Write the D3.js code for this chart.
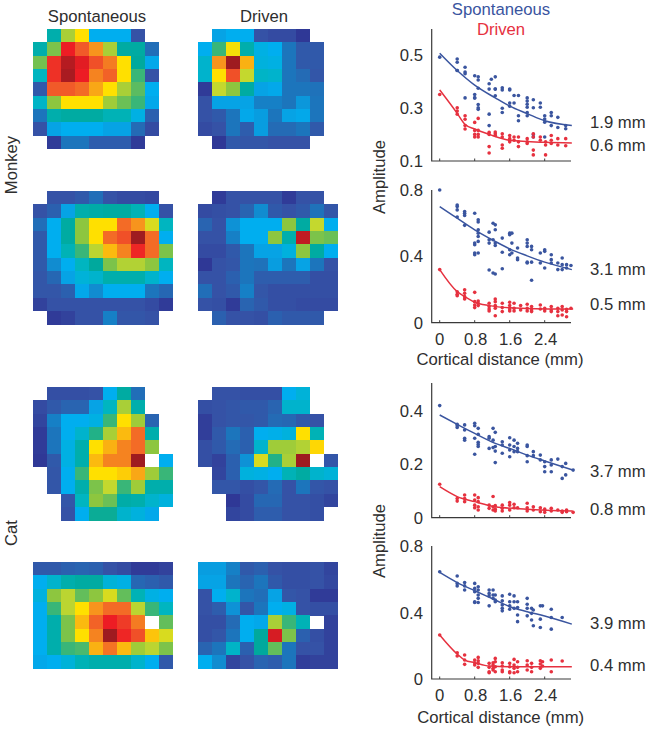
<!DOCTYPE html>
<html><head><meta charset="utf-8"><script src="https://cdn.jsdelivr.net/npm/d3@7"></script>
<style>html,body{margin:0;padding:0;background:#fff}svg{display:block}text{font-family:"Liberation Sans",Arial,sans-serif;fill:#2e2e2e}</style>
</head><body><div id="c"></div><script>
const _=null;
const colorStops=[0,.1,.2,.3,.38,.45,.5,.6,.66,.72,.8,.87,.93,1];
const colorValues=["#2e3192","#3552a6","#1c75bc","#00aeef","#00b5c0","#00a99d","#39b678","#8dc63f","#c4d82e","#ffe000","#f7941d","#f15a29","#ed1c24","#9e1b20"];

const gridMonkeySpont1=[
[_,.42,.63,.72,.3,.3,.3,.1,_],
[.42,.58,.93,.87,.8,.63,.44,.44,.18],
[.57,.91,.98,.94,.88,.83,.72,.45,.29],
[.38,.91,.99,.93,.82,.86,.72,.5,.1],
[.12,.87,.87,.85,.78,.72,.63,.54,.3],
[.37,.6,.72,.72,.72,.62,.56,.5,.29],
[.2,.42,.44,.44,.44,.4,.4,.32,.14],
[.1,.28,.3,.3,.3,.28,.28,.17,.08],
[_,.03,.2,.2,.13,.13,.13,.03,_]];
const gridMonkeyDriven1=[
[_,.28,.3,.3,.1,.08,.08,.02,_],
[.3,.5,.71,.42,.32,.3,.2,.12,.12],
[.36,.8,1,.77,.33,.32,.2,.12,.12],
[.36,.72,.88,.66,.37,.36,.2,.17,.11],
[.03,.66,.6,.44,.28,.29,.2,.2,.19],
[.1,.28,.28,.28,.22,.22,.2,.26,.2],
[.1,.12,.2,.29,.27,.2,.28,.29,.2],
[.08,.1,.2,.13,.27,.17,.17,.2,.12],
[_,.02,.12,.11,.11,.1,.1,.1,_]];
const gridMonkeySpont2=[
[_,.1,.1,.12,.18,.1,.08,.08,.07,_],
[.1,.14,.28,.42,.43,.44,.44,.4,.3,.1],
[.18,.3,.44,.6,.72,.72,.85,.8,.68,.38],
[.12,.3,.44,.6,.72,.85,.88,1,.85,.3],
[.12,.3,.4,.5,.65,.76,.82,.92,.85,.58],
[.12,.24,.3,.38,.45,.58,.64,.64,.6,.38],
[.11,.16,.28,.34,.36,.42,.42,.42,.36,.3],
[.11,.11,.14,.29,.24,.3,.3,.3,.2,.16],
[.05,.1,.1,.1,.1,.1,.1,.1,.08,.03],
[_,.03,.05,.1,.1,.22,.11,.11,.1,_]];
const gridMonkeyDriven2=[
[_,.03,.1,.1,.1,.1,.03,.1,.1,_],
[.08,.09,.1,.15,.24,.12,.1,.12,.19,.11],
[.15,.1,.25,.3,.3,.3,.6,.44,.66,.3],
[.1,.1,.22,.3,.3,.6,.42,.97,.58,.56],
[.08,.08,.12,.2,.28,.28,.33,.6,.44,.3],
[.02,.1,.11,.2,.19,.27,.2,.28,.2,.1],
[.1,.1,.14,.2,.13,.13,.13,.13,.09,.09],
[.18,.1,.12,.22,.11,.09,.09,.09,.09,.09],
[.1,.09,.03,.15,.12,.09,.09,.08,.08,.08],
[_,.14,.1,.1,.09,.14,.12,.12,.12,_]];
const gridCatSpont1=[
[_,.09,.09,.09,.1,.3,.44,.18,_,_],
[.08,.12,.15,.15,.28,.38,.63,.42,_,_],
[.06,.22,.3,.3,.32,.5,.72,.62,.15,_],
[.03,.2,.3,.36,.48,.63,.76,.85,.42,_],
[.03,.2,.32,.42,.72,.77,.82,.85,.6,_],
[.02,.12,.32,.42,.76,.82,.82,1,_,.3],
[_,.11,.3,.5,.72,.72,.74,.78,.62,.5],
[_,.11,.3,.42,.58,.66,.5,.62,.42,.42],
[_,_,.11,.38,.6,.56,.43,.42,.36,.33],
[_,_,.1,.3,.46,.46,.36,.33,.29,_]];
const gridCatDriven1=[
[_,.1,.1,.09,.09,.09,.3,.34,_,_],
[.09,.1,.11,.12,.12,.15,.36,.36,_,_],
[.04,.1,.11,.11,.12,.17,.16,.12,.1,_],
[.04,.12,.2,.14,.3,.31,.33,.72,.4,_],
[.09,.12,.17,.14,.36,.62,.62,.64,.73,_],
[.09,.05,.14,.25,.68,.48,.63,1,_,.11],
[_,.06,.14,.33,.32,.3,.4,.44,.36,.34],
[_,.11,.11,.09,.11,.17,.1,.2,.11,.1],
[_,_,.02,.08,.16,.16,.1,.1,.09,.06],
[_,_,.06,.08,.13,.13,.1,.1,.09,_]];
const gridCatSpont2=[
[.12,.12,.14,.15,.14,.1,.08,.03,.03,.05],
[.3,.36,.42,.44,.44,.34,.32,.16,.14,.12],
[.33,.6,.65,.55,.6,.68,.55,.4,.32,.3],
[.3,.5,.65,.72,.8,.85,.85,.65,.5,.38],
[.3,.42,.58,.76,.86,.93,.9,.83,_,.55],
[.3,.42,.58,.72,.82,1,.92,.88,.75,.68],
[.3,.42,.5,.52,.77,.84,.76,.62,.65,.58],
[.29,.3,.34,.4,.42,.42,.42,.36,.3,.12]];
const gridCatDriven2=[
[.27,.27,.22,.12,.14,.1,.09,.09,.1,.06],
[.28,.28,.2,.15,.2,.12,.09,.09,.1,.07],
[.1,.3,.36,.2,.18,.28,.11,.1,.03,.03],
[.1,.13,.25,.11,.2,.3,.32,.1,.09,.09],
[.09,.09,.17,.3,.29,.63,.5,.4,_,.05],
[.09,.11,.2,.3,.45,.95,.58,.14,.09,.05],
[.15,.2,.37,.14,.45,.55,.2,.1,.1,.05],
[.3,.24,.06,.1,.15,.13,.2,.04,.05,.05]];

/* scatter data: [cortical distance, [amplitudes]] */
const spont1=[[0,[.49]],[.4,[.483,.471,.44,.44]],[.58,[.452,.434,.428,.337]],[.8,[.42,.35,.337,.337]],[.88,[.416,.404,.373,.312,.3,.294]],[1.13,[.39,.37,.276,.233]],[1.18,[.407]],[1.27,[.416,.37,.37,.345]],[1.43,[.375,.367,.298,.282]],[1.6,[.37,.367,.318,.306]],[1.7,[.346,.318]],[1.8,[.346,.27,.251]],[2,[.337,.325,.313,.302,.282,.27]],[2.14,[.33,.3,.2,.19]],[2.3,[.318,.302]],[2.4,[.27,.258,.246,.19]],[2.55,[.282,.27,.233]],[2.7,[.264,.226]],[2.88,[.233,.221]]];
const driven1=[[0,[.35]],[.4,[.3,.288,.276]],[.58,[.27,.257,.233,.22]],[.8,[.245,.215,.2,.19]],[.88,[.26,.215,.2,.19]],[1.13,[.208,.2,.154,.13]],[1.27,[.209,.202,.196]],[1.43,[.202,.19,.16,.148]],[1.6,[.196,.184,.178,.172]],[1.7,[.19,.178]],[1.8,[.19,.172,.154]],[2,[.184,.172,.166]],[2.14,[.202,.19,.141,.123]],[2.3,[.19,.178]],[2.42,[.172,.16,.123]],[2.55,[.196,.178,.166]],[2.7,[.184,.16]],[2.88,[.184,.157]]];
const lineSpont1=[[0,.505],[.4,.44],[.8,.385],[1.27,.337],[1.6,.306],[2,.278],[2.4,.251],[3.02,.233]];
const lineDriven1=[[0,.367],[.4,.279],[.57,.239],[.8,.22],[1.13,.2],[1.6,.178],[2.4,.17],[3.02,.168]];

const spont2=[[0,[.8]],[.4,[.71,.7,.68,.637]],[.57,[.67,.66,.647,.587]],[.8,[.66,.48,.47,.42,.41]],[.88,[.62,.607,.56,.54,.52,.49,.42]],[1.13,[.546,.5,.48,.318]],[1.22,[.6,.5,.3]],[1.27,[.59,.56,.48,.465,.294]],[1.43,[.51,.425,.325]],[1.6,[.54,.53,.44,.41]],[1.65,[.54,.48,.42]],[1.78,[.45,.39,.38]],[2,[.5,.48,.46,.365,.36]],[2.1,[.46,.44,.365,.256]],[2.3,[.42,.36]],[2.4,[.44,.43,.33]],[2.55,[.41,.38,.36]],[2.7,[.36,.32]],[2.8,[.39,.35,.32]],[2.9,[.35,.33]],[3,[.345]]];
const driven2=[[0,[.32]],[.4,[.187,.171,.163]],[.57,[.198,.177,.157,.143]],[.8,[.183,.127,.107,.091]],[.88,[.131,.117,.103]],[1.13,[.117,.097,.083,.071]],[1.27,[.143,.127,.103,.087,.042]],[1.43,[.117,.091,.067]],[1.6,[.123,.103,.083,.071]],[1.7,[.117,.087,.071]],[1.85,[.103,.077]],[2,[.111,.087,.071]],[2.1,[.097,.077,.067]],[2.3,[.107,.083]],[2.4,[.087,.071]],[2.55,[.097,.077,.067]],[2.7,[.087,.067,.042]],[2.8,[.097,.077,.046]],[2.9,[.081,.067,.036]],[3,[.087]]];
const lineSpont2=[[0,.7],[.4,.63],[.8,.56],[1.27,.49],[1.6,.445],[2,.403],[2.4,.365],[3.02,.32]];
const lineDriven2=[[0,.32],[.4,.187],[.57,.157],[.8,.123],[1.13,.103],[1.6,.09],[2.4,.083],[3.05,.083]];

const spont3=[[0,[.419]],[.4,[.349,.344,.337]],[.57,[.347,.328,.297,.29]],[.8,[.353,.344,.297,.237]],[.88,[.334,.312,.282,.274,.266]],[1.13,[.303,.297,.259]],[1.22,[.334,.29,.262]],[1.27,[.319,.266,.249,.206]],[1.43,[.284,.272,.241]],[1.6,[.299,.272,.253,.228]],[1.7,[.29,.266,.247]],[1.78,[.278,.259,.247]],[2,[.272,.266,.232,.209]],[2.14,[.247,.232]],[2.3,[.234,.216]],[2.4,[.209,.191,.172]],[2.55,[.216,.197,.172]],[2.7,[.219]],[2.8,[.191,.147]],[2.88,[.203,.16]],[3.05,[.178]]];
const driven3=[[0,[.125]],[.4,[.072,.062]],[.57,[.085,.072,.06]],[.8,[.085,.066,.047,.037]],[.88,[.075,.06,.041,.029]],[1.13,[.047,.035]],[1.22,[.079,.041,.029]],[1.27,[.045,.032,.025]],[1.43,[.047,.035,.025]],[1.6,[.057,.047,.029]],[1.7,[.05,.037]],[1.78,[.037]],[2,[.054,.037,.025]],[2.14,[.041,.029]],[2.3,[.037,.022]],[2.4,[.032,.02]],[2.55,[.035,.025]],[2.7,[.029]],[2.8,[.025,.02]],[2.9,[.029,.022]],[3.05,[.02]]];
const lineSpont3=[[0,.384],[.4,.349],[.8,.315],[1.27,.278],[1.6,.259],[2,.234],[2.4,.212],[3.04,.178]];
const lineDriven3=[[0,.116],[.4,.079],[.8,.06],[1.27,.041],[2,.032],[3.04,.025]];

const spont4=[[0,[.645]],[.4,[.62,.575,.56]],[.57,[.58,.56,.535]],[.8,[.575,.545,.525,.465,.46]],[.88,[.555,.535,.505,.485,.46]],[1.13,[.535,.515,.5,.44]],[1.22,[.535,.505,.485]],[1.27,[.505,.475,.465]],[1.43,[.5,.47,.445,.425,.41]],[1.6,[.51,.465,.44,.42]],[1.7,[.5,.465,.425]],[1.78,[.465,.43,.385,.345]],[2,[.485,.45,.425,.38]],[2.1,[.425,.395,.355]],[2.14,[.415,.32]],[2.3,[.44,.36,.31]],[2.35,[.44]],[2.55,[.42,.37,.3]],[2.8,[.37]]];
const driven4=[[0,[.265]],[.4,[.158,.138]],[.57,[.144,.114,.088]],[.8,[.114,.098,.084]],[.88,[.13,.11,.094,.07]],[1.13,[.094,.07,.044,.038]],[1.22,[.098,.084,.064,.054]],[1.27,[.124,.104,.074,.044]],[1.43,[.098,.078,.054,.044]],[1.6,[.094,.074,.044,.038]],[1.7,[.118,.084,.064,.038]],[1.78,[.104,.07,.044]],[2,[.11,.084,.054]],[2.1,[.094,.07,.044]],[2.3,[.11,.09,.064]],[2.35,[.104,.078]],[2.55,[.114,.044]],[2.8,[.108]]];
const lineSpont4=[[0,.641],[.4,.58],[.8,.531],[1.27,.475],[1.6,.435],[2,.405],[2.4,.379],[3.02,.33]];
const lineDriven4=[[0,.265],[.4,.15],[.57,.114],[.8,.098],[1.13,.078],[1.6,.074],[3.02,.074]];

const xTicks=[0,.8,1.6,2.4];
const xLabel="Cortical distance (mm)";
const columnTitles=["Spontaneous","Driven"];
const rowLabels=["Monkey","Cat"];

const BLUE="#3a559f", RED="#e6313f", FS=16.7;
const svg=d3.select("#c").append("svg").attr("width",653).attr("height",732);
const color=d3.scaleLinear().domain(colorStops).range(colorValues).clamp(true);

function heat(grid,x0,y0){
  const cw=14,ch=13.33;
  const x=d3.scaleLinear().domain([0,1]).range([x0,x0+cw]);
  const y=d3.scaleLinear().domain([0,1]).range([y0,y0+ch]);
  const g=svg.append("g").attr("shape-rendering","crispEdges");
  grid.forEach((row,r)=>row.forEach((v,c)=>{
    if(v===null)return;
    g.append("rect").attr("x",x(c)).attr("y",y(r)).attr("width",cw+.3).attr("height",ch+.3).attr("fill",color(v));
  }));
}
heat(gridMonkeySpont1,33,29);
heat(gridMonkeyDriven1,198,29);
heat(gridMonkeySpont2,33,191);
heat(gridMonkeyDriven2,198,191);
heat(gridCatSpont1,33,387);
heat(gridCatDriven1,198,387);
heat(gridCatSpont2,33,562);
heat(gridCatDriven2,198,562);

function txt(s,x,y,a,c,rot){
  const t=svg.append("text").text(s).attr("font-size",FS).attr("text-anchor",a||"start").attr("x",x).attr("y",y);
  if(c)t.style("fill",c);
  if(rot)t.attr("transform",`rotate(-90 ${x} ${y})`);
  return t;
}
txt(columnTitles[0],97,22,"middle");
txt(columnTitles[1],264,22,"middle");
txt(rowLabels[0],17,165,"middle",null,true);
txt(rowLabels[1],17,533,"middle",null,true);
txt(columnTitles[0],501,15,"middle",BLUE);
txt(columnTitles[1],501,35,"middle",RED);

function chart(o){
  const x=d3.scaleLinear().domain([0,.8]).range([439.7,474.7]);
  const y=d3.scaleLinear().domain(o.yref).range(o.yrange);
  const g=svg.append("g");
  const ax=431.7, bottom=o.bottom, top=o.top;
  g.append("path").attr("d",`M${ax},${top}V${bottom}H571`).attr("fill","none").attr("stroke","#3a3a3a").attr("stroke-width",1.2);
  xTicks.forEach(t=>g.append("line").attr("x1",x(t)).attr("x2",x(t)).attr("y1",bottom).attr("y2",bottom-2.5).attr("stroke","#3a3a3a"));
  o.yTicks.forEach(t=>txt(t.l,423,y(t.v)+6,"end"));
  if(o.xlab){
    xTicks.forEach(t=>txt(String(t),x(t)+(t?1:0),bottom+22,"middle"));
    txt(xLabel,o.xlabX,o.xlabY,"middle");
  }
  const line=d3.line().x(d=>x(d[0])).y(d=>y(d[1])).curve(d3.curveMonotoneX);
  [[o.s,o.ls,BLUE],[o.d,o.ld,RED]].forEach(([pts,l,c])=>{
    g.append("path").attr("d",line(l)).attr("fill","none").attr("stroke",c).attr("stroke-width",1.5);
    pts.forEach(([d,vs])=>vs.forEach(v=>g.append("circle").attr("cx",x(d)).attr("cy",y(v)).attr("r",1.8).attr("fill",c)));
  });
  o.labels.forEach(l=>txt(l[0],590,l[1]));
}
chart({yref:[.1,.5],yrange:[161,54.5],top:29,bottom:161,s:spont1,d:driven1,ls:lineSpont1,ld:lineDriven1,
  yTicks:[{v:.5,l:"0.5"},{v:.3,l:"0.3"},{v:.1,l:"0.1"}],labels:[["1.9 mm",128],["0.6 mm",151]]});
chart({yref:[0,.8],yrange:[322.7,190],top:190,bottom:322.7,s:spont2,d:driven2,ls:lineSpont2,ld:lineDriven2,xlab:true,xlabX:500,xlabY:365,
  yTicks:[{v:.8,l:"0.8"},{v:.4,l:"0.4"},{v:0,l:"0"}],labels:[["3.1 mm",275],["0.5 mm",310]]});
chart({yref:[0,.4],yrange:[517.7,410.7],top:383,bottom:517.7,s:spont3,d:driven3,ls:lineSpont3,ld:lineDriven3,
  yTicks:[{v:.4,l:"0.4"},{v:.2,l:"0.2"},{v:0,l:"0"}],labels:[["3.7 mm",477],["0.8 mm",515]]});
chart({yref:[0,.8],yrange:[679,546],top:546,bottom:679,s:spont4,d:driven4,ls:lineSpont4,ld:lineDriven4,xlab:true,xlabX:500.7,xlabY:723,
  yTicks:[{v:.8,l:"0.8"},{v:.4,l:"0.4"},{v:0,l:"0"}],labels:[["3.9 mm",629],["0.4 mm",671]]});
txt("Amplitude",385,177,"middle",null,true);
txt("Amplitude",385,541,"middle",null,true);
</script></body></html>
